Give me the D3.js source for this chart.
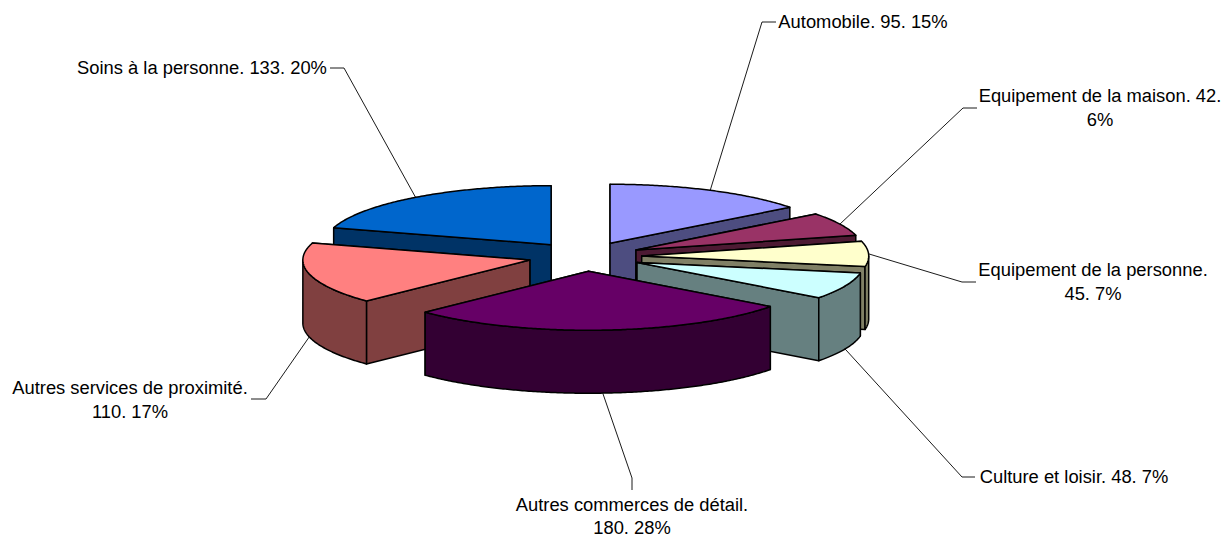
<!DOCTYPE html>
<html>
<head>
<meta charset="utf-8">
<script src="https://cdn.jsdelivr.net/npm/d3@7"></script>
<style>
html,body{margin:0;padding:0;background:#fff;}
svg{display:block;}
text{font-family:"Liberation Sans",Arial,sans-serif;font-size:18.35px;fill:#000;}
</style>
</head>
<body>
<div id="chart"></div>
<script>
// Data
const categories = ["Automobile","Equipement de la maison","Equipement de la personne","Culture et loisir","Autres commerces de détail","Autres services de proximité","Soins à la personne"];
const values = [95,42,45,48,180,110,133];
const topColors = ["#9999FF","#993366","#FFFFCC","#CCFFFF","#660066","#FF8080","#0066CC"];
const sideColors = ["#4D4D80","#4D1A33","#808066","#668080","#330033","#804040","#003366"];
const labelLines = [
  ["Automobile. 95. 15%"],
  ["Equipement de la maison. 42.","6%"],
  ["Equipement de la personne.","45. 7%"],
  ["Culture et loisir. 48. 7%"],
  ["Autres commerces de détail.","180. 28%"],
  ["Autres services de proximité.","110. 17%"],
  ["Soins à la personne. 133. 20%"]
];
// Layout (label anchor, elbow points of the leader line)
const labelAt = [[863,22],[1100,96],[1093,270],[1074,477],[632,504.5],[130,388],[202,68]];
const elbows = [
  [[762,22],[776,22]],
  [[963,108],[977,108]],
  [[962,282],[976,282]],
  [[962,477],[975,477]],
  [[632,478],[632,490]],
  [[266,399],[251,399]],
  [[344,68],[330,68]]
];
const drawOrder = [0,6,1,2,3,5,4];

const W=1224,H=536, cx=585, cy=256.5, rx=227, ry=59, depth=63, explode=0.25;
const sx=d3.scaleLinear().domain([-1,1]).range([cx-rx,cx+rx]);
const sy=d3.scaleLinear().domain([-1,1]).range([cy-ry,cy+ry]);

const arcs=d3.pie().sort(null).startAngle(0).endAngle(2*Math.PI)(values);
const svg=d3.select("#chart").append("svg").attr("width",W).attr("height",H);
const line=d3.line();

function slicePt(d,a,r,dz){
  const m=(d.startAngle+d.endAngle)/2;
  return [sx(r*Math.sin(a)+explode*Math.sin(m)), sy(-r*Math.cos(a)-explode*Math.cos(m))+dz];
}
function rim(d,a0,a1,dz){
  const n=Math.max(2,Math.ceil((a1-a0)/0.01));
  return d3.range(n+1).map(i=>slicePt(d,a0+(a1-a0)*i/n,1,dz));
}
const styleWall=(sel,c)=>sel.attr("fill",c).attr("stroke","#000").attr("stroke-width",1.5).attr("stroke-linejoin","round");

const pieG=svg.append("g");
drawOrder.forEach(i=>{
  const d=arcs[i], g=pieG.append("g");
  // radial walls: the one whose rim lies further back is painted first
  [d.startAngle,d.endAngle]
    .sort((a,b)=>slicePt(d,a,1,0)[1]-slicePt(d,b,1,0)[1])
    .forEach(a=>{
      const pts=[slicePt(d,a,0,0),slicePt(d,a,1,0),slicePt(d,a,1,depth),slicePt(d,a,0,depth)];
      g.append("path").attr("d",line(pts)+"Z").call(styleWall,sideColors[i]);
    });
  const a0=Math.max(d.startAngle,Math.PI/2), a1=Math.min(d.endAngle,3*Math.PI/2);
  if(a1>a0){
    const pts=rim(d,a0,a1,0).concat(rim(d,a0,a1,depth).reverse());
    g.append("path").attr("d",line(pts)+"Z").call(styleWall,sideColors[i]);
  }
  const top=[slicePt(d,d.startAngle,0,0)].concat(rim(d,d.startAngle,d.endAngle,0));
  g.append("path").attr("d",line(top)+"Z").call(styleWall,topColors[i]);
});

// Leader lines start on the visible rim at each slice's mid angle
arcs.forEach((d,i)=>{
  const m=(d.startAngle+d.endAngle)/2;
  const dz=(m>Math.PI/2&&m<3*Math.PI/2)?depth:0;
  svg.append("path").attr("d",line([slicePt(d,m,1,dz),...elbows[i]]))
    .attr("fill","none").attr("stroke","#000").attr("stroke-width",0.9);
});

// Labels
labelLines.forEach((ls,i)=>{
  const t=svg.append("text").attr("text-anchor","middle").attr("aria-label",categories[i]);
  ls.forEach((s,j)=>t.append("tspan").attr("x",labelAt[i][0]).attr("y",labelAt[i][1]+6+j*23.5).text(s));
});
</script>
</body>
</html>
